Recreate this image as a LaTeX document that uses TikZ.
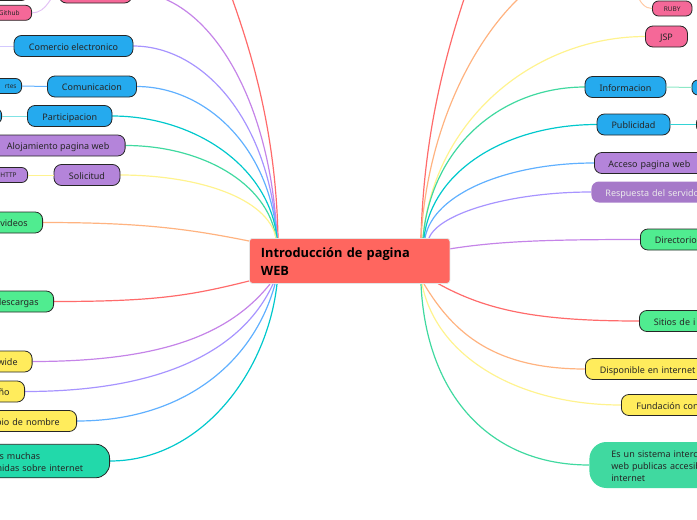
\documentclass[tikz,border=0pt]{standalone}
\usepackage{fontspec}
\setmainfont{Noto Sans}
\newfontfamily\hubfont{Open Sans}
\definecolor{cpink}{HTML}{F56898}
\definecolor{cblue}{HTML}{25AAEE}
\definecolor{cpurp}{HTML}{B484DA}
\definecolor{cgreen}{HTML}{50EC90}
\definecolor{cyell}{HTML}{FFEC5C}
\definecolor{cteal}{HTML}{22D9AA}
\definecolor{lred}{HTML}{FF6B6B}
\definecolor{lorange}{HTML}{FFB380}
\definecolor{lyellow}{HTML}{FFF38F}
\definecolor{lgreen}{HTML}{40D9A0}
\definecolor{lteal}{HTML}{00C8CC}
\definecolor{lblue}{HTML}{60B0FF}
\definecolor{lviolet}{HTML}{A794FF}
\definecolor{lpurple}{HTML}{C584E8}
\definecolor{cmain}{HTML}{FF665F}
\tikzset{
  pill/.style={draw=black!85, line width=0.8pt, rounded corners=7.5pt, minimum height=21pt, inner ysep=0pt, inner xsep=0pt, text=black!85, font=\fontsize{9}{11}\selectfont, text height=8.2pt, text depth=0pt},
  mini/.style={pill, rounded corners=6pt, minimum height=15pt, font=\fontsize{6.5}{8}\selectfont, text height=5.8pt, text depth=0pt},
  many/.style={text height=, text depth=},
  conn/.style={line width=1.2pt},
  hub/.style={fill=cmain, draw=black!10, line width=0.8pt, rounded corners=3pt, inner sep=0pt, font=\hubfont\bfseries\fontsize{12.8}{18.5}\selectfont, text=black},
  pinkn/.style={fill=cpink}, bluen/.style={fill=cblue}, purpn/.style={fill=cpurp}, greenn/.style={fill=cgreen}, yelln/.style={fill=cyell}
}
\begin{document}
\begin{tikzpicture}[x=1pt,y=-1pt]
\useasboundingbox (0,0) rectangle (697,520);
\clip (0,0) rectangle (697,520);
% hub anchors
\coordinate (t1) at (278,238); \coordinate (t2) at (277,238); \coordinate (t3) at (276,238);
\coordinate (b1) at (270,284); \coordinate (b2) at (273,284); \coordinate (b3) at (275,284); \coordinate (b4) at (277,284);
\coordinate (r1) at (421,238); \coordinate (r2) at (423,238); \coordinate (r3) at (424,238); \coordinate (r4) at (425,238); \coordinate (r5) at (429,238);
\coordinate (s1) at (437,283); \coordinate (s2) at (424,284); \coordinate (s3) at (422,284); \coordinate (s4) at (421,284);
\coordinate (redL) at (229,-10); \coordinate (redR) at (467,-10); \coordinate (orgR) at (528,-10); \coordinate (rubyS) at (636,-8);
\coordinate (comS) at (-5,46);
\coordinate (aPink) at (132,-8); \coordinate (aCom) at (133,46); \coordinate (aCmn) at (136.5,86.5); \coordinate (aPar) at (112,116);
\coordinate (aAlo) at (125.5,145.5); \coordinate (aSol) at (120,175); \coordinate (aVid) at (43,222.5); \coordinate (aDes) at (54,301.5);
\coordinate (aWid) at (32.5,361.5); \coordinate (aNo) at (25,391.5); \coordinate (aBio) at (77,421); \coordinate (aMuc) at (110,461);
\coordinate (aJsp) at (645.5,36.5); \coordinate (aInf) at (585,87); \coordinate (aPub) at (597,124.5); \coordinate (aAcc) at (594,163);
\coordinate (aRes) at (591,192); \coordinate (aDir) at (640,239.5); \coordinate (aSit) at (639,321); \coordinate (aDis) at (585,369);
\coordinate (aFun) at (621,405); \coordinate (aEsu) at (589,465);
\coordinate (hubL1) at (249,241); \coordinate (hubL2) at (249,281); \coordinate (hubR) at (449,249);

\draw[conn,lred] (redL) .. controls +(22,60) and +(-2,-107) .. (t1);
\draw[conn,lpurple] (aPink) .. controls +(72,0) and +(-7,-147) .. (t2);
\draw[conn,lviolet] (aCom) .. controls +(72,0) and +(-7,-115) .. (t2);
\draw[conn,lblue] (aCmn) .. controls +(70,0) and +(-7,-90) .. (t2);
\draw[conn,lteal] (aPar) .. controls +(82,0) and +(-8,-72) .. (t2);
\draw[conn,lgreen] (aAlo) .. controls +(76,0) and +(-8,-55) .. (t3);
\draw[conn,lyellow] (aSol) .. controls +(78,0) and +(-8,-40) .. (t3);
\draw[conn,lorange] (aVid) .. controls +(100,0) and +(-60,-12) .. (hubL1);
\draw[conn,lred] (aDes) .. controls +(100,0) and +(-60,15) .. (hubL2);
\draw[conn,lpurple] (aWid) .. controls +(130,0) and +(-40,50) .. (b1);
\draw[conn,lviolet] (aNo) .. controls +(140,0) and +(-30,65) .. (b2);
\draw[conn,lblue] (aBio) .. controls +(110,0) and +(-20,75) .. (b3);
\draw[conn,lteal] (aMuc) .. controls +(90,0) and +(-10,90) .. (b4);
\draw[conn,lred] (redR) .. controls +(-20,60) and +(3,-108) .. (r1);
\draw[conn,lorange] (orgR) .. controls +(-48,40) and +(7,-118) .. (r1);
\draw[conn,lyellow] (aJsp) .. controls +(-110,0) and +(11,-120) .. (r2);
\draw[conn,lgreen] (aInf) .. controls +(-85,0) and +(8,-90) .. (r2);
\draw[conn,lteal] (aPub) .. controls +(-90,0) and +(8,-68) .. (r3);
\draw[conn,lblue] (aAcc) .. controls +(-85,0) and +(8,-45) .. (r4);
\draw[conn,lviolet] (aRes) .. controls +(-80,0) and +(10,-25) .. (r5);
\draw[conn,lpurple] (aDir) .. controls +(-90,0) and +(50,-8) .. (hubR);
\draw[conn,lred] (aSit) .. controls +(-100,0) and +(50,28) .. (s1);
\draw[conn,lorange] (aDis) .. controls +(-90,0) and +(30,50) .. (s2);
\draw[conn,lyellow] (aFun) .. controls +(-100,0) and +(15,75) .. (s3);
\draw[conn,lgreen] (aEsu) .. controls +(-100,0) and +(5,110) .. (s4);

% left top
\node[pill,pinkn,minimum width=73pt,minimum height=21pt] (pink) at (95.5,-7.5) {};
\node[mini,pinkn,anchor=east,text width=30pt,align=right,inner xsep=12pt] (github) at (32,12.8) {Github};
\node[mini,pinkn,anchor=east,minimum width=40pt] (ghup) at (28,-7) {};
\coordinate (pinkW) at (pink.west);
\draw[line width=1pt,lpurple!50] (pinkW) .. controls (50,-6) and (48,12.8) .. (github.east);
\draw[line width=1pt,lpurple!50] (pinkW) -- (ghup.east);
\draw[line width=1pt,lviolet!50] (14,46) -- (comS);
\node[pill,bluen,minimum width=119pt] (com) at (73.5,46) {Comercio electronico};
\node[mini,bluen,anchor=east,text width=20pt,align=right,inner xsep=5pt] (rtes) at (22,86) {rtes};
\node[pill,bluen,minimum width=89pt] (cmn) at (92,86.5) {Comunicacion};
\draw[line width=1pt,lblue] (cmn.west) -- (rtes.east);
\node[mini,bluen,anchor=east,minimum width=20pt] (part0) at (2,116) {};
\node[pill,bluen,minimum width=84.5pt] (par) at (69.75,116) {Participacion};
\draw[line width=1pt,lteal!50] (par.west) -- (part0.east);
\node[pill,purpn,anchor=east,minimum width=134pt] (alo) at (125.5,145.5) {Alojamiento pagina web};
\node[mini,purpn,anchor=east,text width=25pt,align=right,inner xsep=11pt] (http) at (28,175) {HTTP};
\node[pill,purpn,minimum width=66pt] (sol) at (87,175) {Solicitud};
\draw[line width=1pt,lyellow] (sol.west) -- (http.east);
\node[pill,greenn,anchor=east,text width=60pt,align=right,inner xsep=15pt] (vid) at (43,222.5) {videos};
\node[pill,greenn,anchor=east,text width=70pt,align=right,inner xsep=15pt] (des) at (54,301.5) {descargas};
\node[pill,yelln,anchor=east,text width=50pt,align=right,inner xsep=14.5pt] (wid) at (32.5,361.5) {wide};
\node[pill,yelln,anchor=east,text width=30pt,align=right,inner xsep=15pt] (no) at (25,391.5) {ño};
\node[pill,yelln,anchor=east,text width=90pt,align=right,inner xsep=17pt] (bio) at (77,421) {bio de nombre};
\node[pill,many,fill=cteal,anchor=east,rounded corners=14pt,minimum height=33.5pt,text width=125pt,align=left,inner xsep=15pt,font=\fontsize{9}{12}\selectfont] (muc) at (110,461) {\rule{0pt}{9pt}\hspace*{30pt}s muchas\\ \hspace*{27pt}nidas sobre internet};

% right
\node[mini,pinkn,minimum width=39.5pt] (ruby) at (672.25,8.5) {RUBY};
\draw[line width=1pt,lorange!70] (rubyS) .. controls (640,3) and (645,8.5) .. (ruby.west);
\node[pill,pinkn,minimum width=42pt] (jsp) at (666.5,36.5) {JSP};
\node[pill,bluen,minimum width=81pt] (inf) at (625.5,87) {Informacion};
\node[mini,bluen,anchor=west,minimum width=30pt] (inf0) at (691.5,87.5) {};
\draw[line width=1pt,lgreen!60] (inf.east) -- (inf0.west);
\node[pill,bluen,minimum width=73pt] (pub) at (633.5,124.5) {Publicidad};
\node[mini,bluen,anchor=west,minimum width=30pt] (pub0) at (696,124.5) {};
\draw[line width=1pt,lteal!80] (pub.east) -- (pub0.west);
\node[pill,purpn,anchor=west,text width=120pt,align=left,inner xsep=14pt] (acc) at (594,163) {Acceso pagina web};
\node[pill,draw=none,fill=cpurp!92!black,text=white!92!black,anchor=west,text width=130pt,align=left,inner xsep=14pt] (res) at (591,192) {Respuesta del servido};
\node[pill,greenn,anchor=west,text width=100pt,align=left,inner xsep=14.5pt] (dir) at (640,239.5) {Directorio};
\node[pill,greenn,anchor=west,text width=100pt,align=left,inner xsep=14.5pt] (sit) at (639,321) {Sitios de i};
\node[pill,yelln,anchor=west,text width=140pt,align=left,inner xsep=14.5pt] (dis) at (585,369) {Disponible en internet};
\node[pill,yelln,anchor=west,text width=120pt,align=left,inner xsep=15pt] (fun) at (621,405) {Fundación con};
\node[pill,many,draw=none,fill=lgreen,anchor=west,rounded corners=17pt,minimum height=46pt,text width=160pt,align=left,inner xsep=22pt,font=\fontsize{9}{12}\selectfont] (esu) at (589,465) {\rule{0pt}{10pt}Es un sistema interc\\web publicas accesib\\internet};

% hub
\node[hub,anchor=north west,minimum width=200.5pt,minimum height=45pt,text width=177.5pt,inner xsep=11.5pt,align=left] (main) at (249,238) {\rule{0pt}{11.5pt}Introducción de pagina\\WEB};
\end{tikzpicture}
\end{document}
